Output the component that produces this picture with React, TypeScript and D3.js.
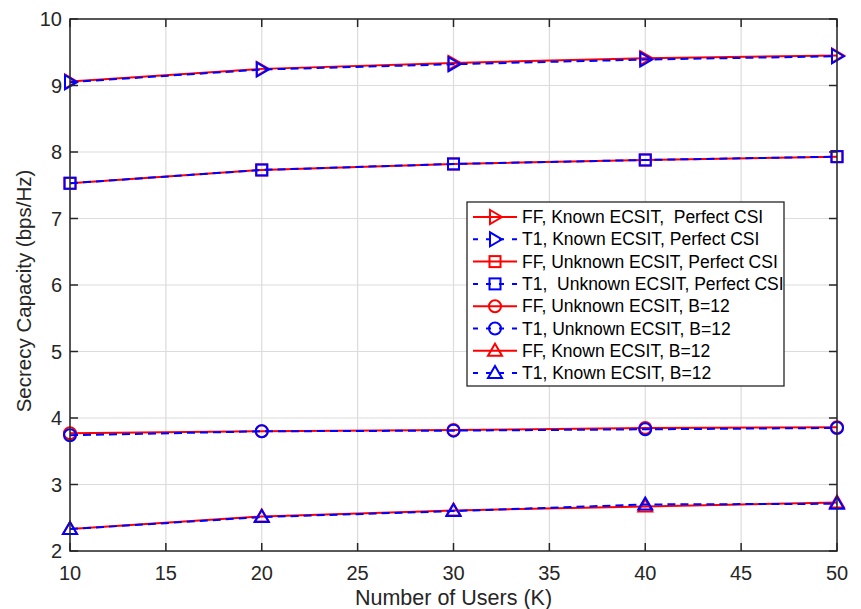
import React from "react";
import * as d3 from "d3";

const users = [10, 20, 30, 40, 50];
const ffKnownPerfect = [9.06, 9.25, 9.34, 9.41, 9.45];
const t1KnownPerfect = [9.05, 9.24, 9.32, 9.39, 9.44];
const ffUnknownPerfect = [7.53, 7.73, 7.82, 7.88, 7.93];
const t1UnknownPerfect = [7.53, 7.73, 7.82, 7.88, 7.93];
const ffUnknownB12 = [3.77, 3.8, 3.82, 3.85, 3.86];
const t1UnknownB12 = [3.74, 3.8, 3.81, 3.83, 3.85];
const ffKnownB12 = [2.33, 2.52, 2.61, 2.67, 2.73];
const t1KnownB12 = [2.33, 2.51, 2.6, 2.7, 2.71];
const xTicks = [10, 15, 20, 25, 30, 35, 40, 45, 50];
const yTicks = [2, 3, 4, 5, 6, 7, 8, 9, 10];

type Marker = "tri-right" | "square" | "circle" | "tri-up";
const seriesList: { name: string; values: number[]; color: string; dashed: boolean; marker: Marker }[] = [
  { name: "FF, Known ECSIT,  Perfect CSI", values: ffKnownPerfect, color: "#ff0000", dashed: false, marker: "tri-right" },
  { name: "T1, Known ECSIT, Perfect CSI", values: t1KnownPerfect, color: "#0000ff", dashed: true, marker: "tri-right" },
  { name: "FF, Unknown ECSIT, Perfect CSI", values: ffUnknownPerfect, color: "#ff0000", dashed: false, marker: "square" },
  { name: "T1,  Unknown ECSIT, Perfect CSI", values: t1UnknownPerfect, color: "#0000ff", dashed: true, marker: "square" },
  { name: "FF, Unknown ECSIT, B=12", values: ffUnknownB12, color: "#ff0000", dashed: false, marker: "circle" },
  { name: "T1, Unknown ECSIT, B=12", values: t1UnknownB12, color: "#0000ff", dashed: true, marker: "circle" },
  { name: "FF, Known ECSIT, B=12", values: ffKnownB12, color: "#ff0000", dashed: false, marker: "tri-up" },
  { name: "T1, Known ECSIT, B=12", values: t1KnownB12, color: "#0000ff", dashed: true, marker: "tri-up" },
];

const W = 861;
const H = 609;
const m = { left: 70, right: 837, top: 19, bottom: 551 };
const font = "'Liberation Sans', Arial, Helvetica, sans-serif";
const axisColor = "#262626";

function MarkerShape({ type, x, y, color }: { type: Marker; x: number; y: number; color: string }) {
  const common = { fill: "none", stroke: color, strokeWidth: 2 };
  if (type === "circle") return <circle cx={x} cy={y} r={6} {...common} />;
  if (type === "square") return <rect x={x - 5.5} y={y - 5.5} width={11} height={11} {...common} />;
  if (type === "tri-up")
    return <path d={`M${x},${y - 7}L${x + 7},${y + 5}L${x - 7},${y + 5}Z`} {...common} />;
  return <path d={`M${x + 7},${y}L${x - 5},${y - 7}L${x - 5},${y + 7}Z`} {...common} />;
}

export default function App() {
  const x = d3.scaleLinear().domain([10, 50]).range([m.left, m.right]);
  const y = d3.scaleLinear().domain([2, 10]).range([m.bottom, m.top]);
  const line = d3
    .line<number>()
    .x((_, i) => x(users[i]))
    .y((v) => y(v));

  const lg = { x: 467, y: 202, w: 317, h: 184, row: 22.3 };

  return (
    <svg width={W} height={H} style={{ position: "absolute", left: 0, top: 0, background: "#fff" }} fontFamily={font}>
      <rect width={W} height={H} fill="#fff" />
      {/* grid */}
      {xTicks.map((t) => (
        <line key={"gx" + t} x1={x(t)} x2={x(t)} y1={m.top} y2={m.bottom} stroke="#dcdcdc" strokeWidth={1.2} />
      ))}
      {yTicks.map((t) => (
        <line key={"gy" + t} x1={m.left} x2={m.right} y1={y(t)} y2={y(t)} stroke="#dcdcdc" strokeWidth={1.2} />
      ))}

      {/* series */}
      {seriesList.map((s) => (
        <g key={s.name}>
          <path
            d={line(s.values) || ""}
            fill="none"
            stroke={s.color}
            strokeWidth={2}
            strokeDasharray={s.dashed ? "8,5" : undefined}
          />
          {s.values.map((v, i) => (
            <MarkerShape key={i} type={s.marker} x={x(users[i])} y={y(v)} color={s.color} />
          ))}
        </g>
      ))}

      {/* axes box and ticks */}
      <rect x={m.left} y={m.top} width={m.right - m.left} height={m.bottom - m.top} fill="none" stroke={axisColor} strokeWidth={1.5} />
      {xTicks.map((t) => (
        <g key={"tx" + t}>
          <line x1={x(t)} x2={x(t)} y1={m.bottom} y2={m.bottom - 8} stroke={axisColor} strokeWidth={1.5} />
          <line x1={x(t)} x2={x(t)} y1={m.top} y2={m.top + 8} stroke={axisColor} strokeWidth={1.5} />
          <text x={x(t)} y={580} textAnchor="middle" fontSize={20} fill={axisColor}>
            {t}
          </text>
        </g>
      ))}
      {yTicks.map((t) => (
        <g key={"ty" + t}>
          <line x1={m.left} x2={m.left + 8} y1={y(t)} y2={y(t)} stroke={axisColor} strokeWidth={1.5} />
          <line x1={m.right} x2={m.right - 8} y1={y(t)} y2={y(t)} stroke={axisColor} strokeWidth={1.5} />
          <text x={m.left - 8} y={y(t) + 7} textAnchor="end" fontSize={20} fill={axisColor}>
            {t}
          </text>
        </g>
      ))}

      {/* axis labels */}
      <text x={(m.left + m.right) / 2} y={605} textAnchor="middle" fontSize={21.5} fill={axisColor}>
        Number of Users (K)
      </text>
      <text
        transform={`translate(31, 291) rotate(-90)`}
        textAnchor="middle"
        fontSize={20.5}
        fill={axisColor}
      >
        Secrecy Capacity (bps/Hz)
      </text>

      {/* legend */}
      <rect x={lg.x} y={lg.y} width={lg.w} height={lg.h} fill="#fff" stroke={axisColor} strokeWidth={1.3} />
      {seriesList.map((s, i) => {
        const cy = lg.y + 15 + i * lg.row;
        return (
          <g key={"lg" + s.name}>
            <line
              x1={473}
              x2={517}
              y1={cy}
              y2={cy}
              stroke={s.color}
              strokeWidth={2}
              strokeDasharray={s.dashed ? "5,8" : undefined}
            />
            <MarkerShape type={s.marker} x={495} y={cy} color={s.color} />
            <text x={522} y={cy + 6} fontSize={17.5} fill="#000" style={{ whiteSpace: "pre" }}>
              {s.name}
            </text>
          </g>
        );
      })}
    </svg>
  );
}
